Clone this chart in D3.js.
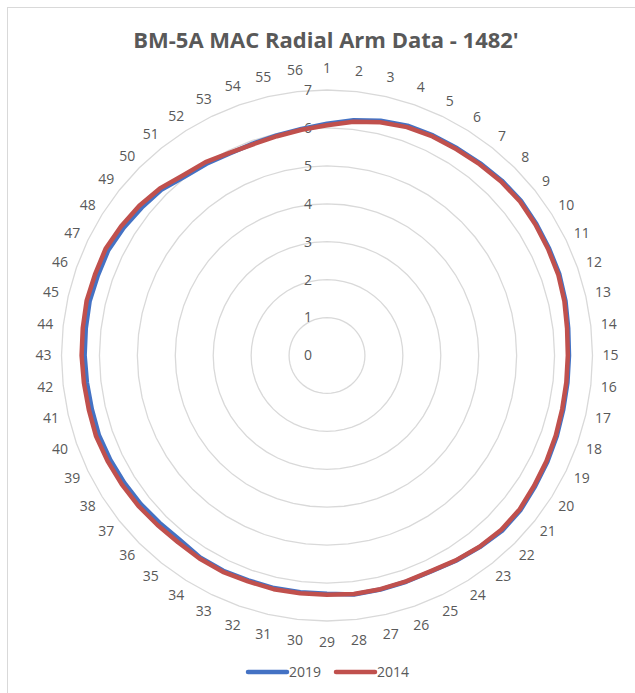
<!DOCTYPE html>
<html><head><meta charset="utf-8">
<script src="https://cdn.jsdelivr.net/npm/d3@7"></script>
<style>
html,body{margin:0;padding:0;background:#fff;}
svg{display:block;font-family:"Open Sans",sans-serif;}
</style></head>
<body><svg id="chart" width="635" height="693"></svg>
<script>
const categories = d3.range(1, 57).map(String);
const radialTicks = [0,1,2,3,4,5,6,7];
const seriesNames = ["2019","2014"];
const values2019 = [6.11,6.24,6.35,6.42,6.44,6.45,6.48,6.52,6.54,6.52,6.50,6.49,6.45,6.40,6.38,6.38,6.39,6.42,6.45,6.48,6.53,6.53,6.46,6.39,6.32,6.32,6.33,6.34,6.28,6.28,6.29,6.28,6.30,6.29,6.22,6.24,6.28,6.31,6.34,6.37,6.36,6.37,6.39,6.40,6.42,6.40,6.40,6.33,6.25,6.18,6.03,5.97,5.91,5.92,5.95,6.01];
const values2014 = [6.07,6.20,6.31,6.38,6.41,6.42,6.45,6.49,6.51,6.49,6.47,6.46,6.42,6.37,6.35,6.35,6.36,6.39,6.42,6.45,6.50,6.50,6.45,6.38,6.31,6.31,6.32,6.33,6.31,6.31,6.32,6.31,6.33,6.32,6.30,6.32,6.36,6.39,6.42,6.45,6.44,6.45,6.47,6.48,6.50,6.48,6.48,6.41,6.33,6.23,6.08,6.02,5.93,5.90,5.93,5.99];
const seriesColors = ["#4472C4","#C0504D"];

const svg = d3.select("#chart");
const cx = 327, cy = 355.5;

// chart border (cropped at right/bottom)
svg.append("rect").attr("x",7.5).attr("y",7.5).attr("width",700).attr("height",700)
  .attr("fill","#fff").attr("stroke","#D9D9D9").attr("stroke-width",1);

svg.append("text").attr("x",326).attr("y",48).attr("text-anchor","middle")
  .attr("font-size",22).attr("font-weight","bold").attr("fill","#595959")
  .text("BM-5A MAC Radial Arm Data - 1482'");

const r = d3.scaleLinear().domain([0,7]).range([0,265.5]);
const ang = d3.scaleLinear().domain([0, categories.length]).range([0, 2*Math.PI]);

const g = svg.append("g").attr("transform",`translate(${cx},${cy})`);

const ringLine = d3.lineRadial().angle((d,i)=>ang(i)).radius(d=>r(d)).curve(d3.curveLinearClosed);
radialTicks.slice(1).forEach(t=>{
  g.append("path").attr("d", ringLine(categories.map(()=>t)))
    .attr("fill","none").attr("stroke","#D9D9D9").attr("stroke-width",1.3);
});

// radial tick labels
g.selectAll("text.rt").data(radialTicks).join("text").attr("class","rt")
  .attr("x",-15).attr("y",d=>-r(d)).attr("dy","0.35em").attr("text-anchor","end")
  .attr("font-size",14).attr("fill","#595959").text(d=>d);

// category labels
g.selectAll("text.cat").data(categories).join("text").attr("class","cat")
  .each(function(d,i){
    const a = ang(i);
    const s = Math.sin(a), c = Math.cos(a);
    let rr = 282 + 5*Math.pow(c,8) + 1.5*Math.pow(s,8);
    if (d.length===1) rr -= 3*Math.abs(s);
    d3.select(this).attr("x", rr*s).attr("y", -rr*c);
  })
  .attr("dy","0.35em").attr("text-anchor","middle")
  .attr("font-size",14).attr("fill","#595959").text(d=>d);

const dataLine = d3.lineRadial().angle((d,i)=>ang(i)).radius(d=>r(d)).curve(d3.curveLinearClosed);
[values2019, values2014].forEach((vals,k)=>{
  g.append("path").attr("d", dataLine(vals)).attr("fill","none")
    .attr("stroke", seriesColors[k]).attr("stroke-width",4.5).attr("stroke-linejoin","round");
});

// legend
const legend = svg.append("g");
const lx = [248, 336];
seriesNames.forEach((n,k)=>{
  legend.append("line").attr("x1",lx[k]).attr("x2",lx[k]+39).attr("y1",672).attr("y2",672)
    .attr("stroke",seriesColors[k]).attr("stroke-width",4.5).attr("stroke-linecap","round");
  legend.append("text").attr("x",lx[k]+41).attr("y",672).attr("dy","0.35em")
    .attr("font-size",14).attr("fill","#595959").text(n);
});
</script></body></html>
